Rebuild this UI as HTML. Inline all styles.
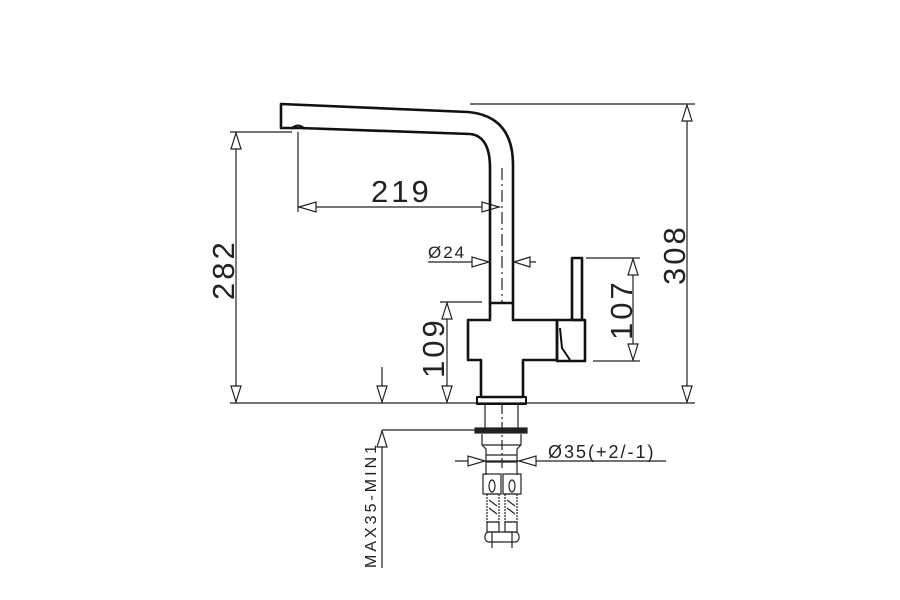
<!DOCTYPE html>
<html><head><meta charset="utf-8"><style>
html,body{margin:0;padding:0;background:#fff;}
svg{display:block;}
text{font-family:"Liberation Sans",sans-serif;fill:#222;}
</style></head><body>
<svg width="900" height="600" viewBox="0 0 900 600" xmlns="http://www.w3.org/2000/svg">
<g fill="none" stroke="#222" stroke-width="1.2">
<line x1="230" y1="403" x2="695" y2="403"/>
<line x1="470" y1="104" x2="695" y2="104"/>
<line x1="687" y1="104" x2="687" y2="403"/>
<polygon points="687,105 682,121 692,121" fill="#fff"/>
<polygon points="687,402 682,386 692,386" fill="#fff"/>
<line x1="230" y1="132" x2="292" y2="132"/>
<line x1="236" y1="132" x2="236" y2="403"/>
<polygon points="236,133 231,149 241,149" fill="#fff"/>
<polygon points="236,402 231,386 241,386" fill="#fff"/>
<line x1="298" y1="132" x2="298" y2="212"/>
<line x1="298" y1="207" x2="500" y2="207"/>
<polygon points="299,207 316,202 316,212" fill="#fff"/>
<polygon points="499,207 482,202 482,212" fill="#fff"/>
<line x1="502" y1="168" x2="502" y2="302" stroke-dasharray="12,4,2,4"/>
<line x1="428" y1="262" x2="489" y2="262"/>
<polygon points="489,262 472,257 472,267" fill="#fff"/>
<line x1="514" y1="262" x2="536" y2="262"/>
<polygon points="514,262 530,257 530,267" fill="#fff"/>
<line x1="440" y1="302" x2="482" y2="302"/>
<line x1="447" y1="302" x2="447" y2="403"/>
<polygon points="447,303 442,319 452,319" fill="#fff"/>
<polygon points="447,402 442,386 452,386" fill="#fff"/>
<line x1="382" y1="367" x2="382" y2="403"/>
<polygon points="382,402 377,386 387,386" fill="#fff"/>
<line x1="586" y1="258" x2="640" y2="258"/>
<line x1="593" y1="361" x2="640" y2="361"/>
<line x1="633" y1="258" x2="633" y2="361"/>
<polygon points="633,259 628,275 638,275" fill="#fff"/>
<polygon points="633,360 628,344 638,344" fill="#fff"/>
</g>
<g fill="none" stroke="#111" stroke-width="2.6" stroke-linejoin="round">
<path d="M281,104 L468,112 Q513,116 513,165 L513,303 L490,303 L490,168 Q490,136 470,134 L300,128 L281,128 Z"/>
<path d="M291,129 Q298,122 305,129" stroke-width="2"/>
<path d="M490,303 L490,320 L468,320 L468,360 L481,360 L481,397 L523,397 L523,360 L557,360 L557,320 L513,320 L513,303"/>
<rect x="557" y="320" width="28" height="41"/>
<path d="M560,328 L562,348 L570,360" stroke-width="2"/>
<rect x="572" y="258" width="10" height="62"/>
<rect x="477" y="397" width="49" height="7" stroke-width="2"/>
</g>
<g fill="none" stroke="#222" stroke-width="1.2">
<line x1="485" y1="404" x2="485" y2="430"/>
<line x1="518" y1="404" x2="518" y2="430"/>
<line x1="502" y1="404" x2="502" y2="470" stroke-dasharray="10,3,2,3"/>
<rect x="475" y="428" width="52" height="5" fill="#222"/>
<line x1="382" y1="430" x2="476" y2="430"/>
<line x1="382" y1="430" x2="382" y2="568"/>
<polygon points="382,431 377,447 387,447" fill="#fff"/>
<path d="M482,434 L482,445 L486,449 L486,475 M521,434 L521,445 L517,449 L517,475 M482,445 L521,445 M486,455 L517,455 M486,462 L517,462"/>
<line x1="455" y1="461" x2="666" y2="461"/>
<polygon points="485,461 468,456 468,466" fill="#fff"/>
<polygon points="519,461 536,456 536,466" fill="#fff"/>
<rect x="483" y="474" width="18" height="20"/>
<rect x="503" y="474" width="18" height="20"/>
<ellipse cx="492" cy="486" rx="3" ry="6"/>
<ellipse cx="512" cy="486" rx="3" ry="6"/>
<rect x="487" y="494" width="12" height="28" stroke-dasharray="2,1"/>
<rect x="505" y="494" width="12" height="28" stroke-dasharray="2,1"/>
<path d="M489,500 l8,6 M489,508 l8,6 M507,500 l8,6 M507,508 l8,6"/>
<rect x="487" y="522" width="12" height="10"/>
<rect x="505" y="522" width="12" height="10"/>
<rect x="485" y="532" width="34" height="10" rx="4"/>
<line x1="492" y1="532" x2="492" y2="548"/>
<line x1="512" y1="532" x2="512" y2="548"/>
</g>
<text x="371" y="202" font-size="31" letter-spacing="3">219</text>
<text x="428" y="258" font-size="17" letter-spacing="2">Ø24</text>
<text x="548" y="458" font-size="18" letter-spacing="2">Ø35(+2/-1)</text>
<text transform="translate(234,300) rotate(-90)" font-size="31" letter-spacing="3">282</text>
<text transform="translate(685,285) rotate(-90)" font-size="31" letter-spacing="3">308</text>
<text transform="translate(444,378) rotate(-90)" font-size="31" letter-spacing="3">109</text>
<text transform="translate(632,340) rotate(-90)" font-size="31" letter-spacing="3">107</text>
<text transform="translate(376,568) rotate(-90)" font-size="16" letter-spacing="3">MAX35-MIN1</text>
</svg>
</body></html>
